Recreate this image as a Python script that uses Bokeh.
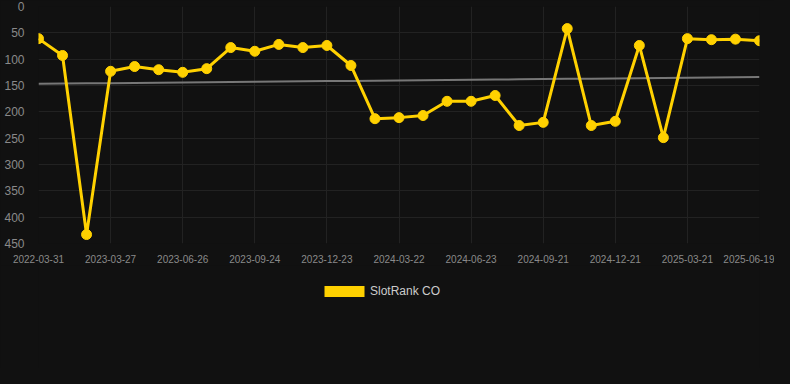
import numpy as np
from bokeh.plotting import figure
from bokeh.layouts import column
from bokeh.models import Range1d, FixedTicker, Legend, LegendItem
from bokeh.embed import file_html
from bokeh.resources import INLINE

dates = [
    "2022-03-31", "2023-01-26", "2023-02-25", "2023-03-27", "2023-04-26", "2023-05-27",
    "2023-06-26", "2023-07-26", "2023-08-25", "2023-09-24", "2023-10-24", "2023-11-23",
    "2023-12-23", "2024-01-22", "2024-02-21", "2024-03-22", "2024-04-22", "2024-05-23",
    "2024-06-23", "2024-07-23", "2024-08-22", "2024-09-21", "2024-10-21", "2024-11-21",
    "2024-12-21", "2025-01-20", "2025-02-19", "2025-03-21", "2025-04-20", "2025-05-20",
    "2025-06-19",
]
rank = [61, 93, 433, 123, 114, 120, 125, 118, 78, 85, 72, 78, 74, 112, 213, 211, 207,
        180, 180, 169, 226, 220, 42, 226, 218, 74, 249, 61, 63, 62, 65]
y_ticks = [0, 50, 100, 150, 200, 250, 300, 350, 400, 450]
series_name = "SlotRank CO"

idx = list(range(len(dates)))
slope, intercept = np.polyfit(idx, rank, 1)
trend = [slope * i + intercept for i in idx]

BG = "#111111"
GOLD = "#FFD100"

p = figure(frame_width=721, frame_height=237, output_backend="svg", toolbar_location=None,
           x_range=Range1d(0, len(dates) - 1), y_range=Range1d(450, 0),
           background_fill_color=BG, border_fill_color=BG,
           min_border_left=38, min_border_right=15, min_border_top=6, min_border_bottom=22)
p.outline_line_color = None

p.line(idx, trend, line_color="#777777", line_width=2)
p.line(idx, rank, line_color=GOLD, line_width=3)
p.scatter(idx, rank, size=10, fill_color=GOLD, line_color=GOLD)

p.xaxis.ticker = FixedTicker(ticks=idx[::3])
p.xaxis.major_label_overrides = {i: dates[i] for i in idx[::3]}
p.yaxis.ticker = FixedTicker(ticks=y_ticks)

for ax in (p.xaxis, p.yaxis):
    ax.axis_line_color = None
    ax.major_tick_line_color = None
    ax.minor_tick_line_color = None
    ax.major_label_text_font = "Liberation Sans"
    ax.major_label_text_color = "#8a8a8a"
p.xaxis.major_label_text_font_size = "10px"
p.xaxis.major_label_standoff = 5
p.yaxis.major_label_text_font_size = "12px"
p.yaxis.major_label_standoff = 8

p.xgrid.grid_line_color = "#222222"
p.ygrid.grid_line_color = "#222222"
p.xgrid.ticker = FixedTicker(ticks=idx[::3])
p.ygrid.ticker = FixedTicker(ticks=y_ticks)

# legend strip below the chart, same frame geometry as the chart
leg_h = 368 - (6 + 237 + 22)
lg = figure(frame_width=721, frame_height=leg_h, output_backend="svg", toolbar_location=None,
            x_axis_type=None, y_axis_type=None,
            x_range=Range1d(0, 1), y_range=Range1d(0, 1),
            background_fill_color=BG, border_fill_color=BG,
            min_border_left=38, min_border_right=15, min_border_top=0, min_border_bottom=0)
lg.outline_line_color = None
lg.grid.visible = False
leg_r = lg.quad(left=[-10], right=[-9], top=[-10], bottom=[-9],
                fill_color=GOLD, line_color=None)
legend = Legend(items=[LegendItem(label=series_name, renderers=[leg_r])],
                orientation="horizontal", location=(281, leg_h - 33),
                glyph_width=50, glyph_height=14, label_standoff=1,
                label_text_color="#cccccc", label_text_font="Liberation Sans",
                label_text_font_size="12px", background_fill_alpha=0,
                border_line_color=None, padding=6, margin=0)
lg.add_layout(legend, "center")

layout = column(p, lg, spacing=0)
html = file_html(layout, INLINE)
html = html.replace("<head>", "<head><style>html,body{background:#111111;}</style>", 1)
open("out.html", "w").write(html)
